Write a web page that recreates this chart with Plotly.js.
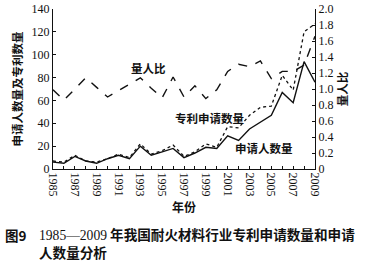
<!DOCTYPE html>
<html>
<head>
<meta charset="utf-8">
<script src="https://cdn.plot.ly/plotly-3.0.1.min.js"></script>
<style>html,body{margin:0;padding:0;background:#fff;}#chart{width:375px;height:265px;}</style>
</head>
<body>
<div id="chart"></div>
<script>
const years = [1985,1986,1987,1988,1989,1990,1991,1992,1993,1994,1995,1996,1997,1998,1999,2000,2001,2002,2003,2004,2005,2006,2007,2008,2009];
const applicants = [6,5,11,7,5,9,12,9,20,12,15,18,10,14,19,18,29,25,35,41,47,67,58,94,76];
const patents = [7,6,12,7,6,9,13,10,22,13,16,21,11,15,22,19,37,36,47,54,55,82,69,120,127];
const ratio = [0.99,0.86,1.00,1.14,1.02,0.90,0.98,1.06,1.14,1.01,0.89,1.15,0.90,1.04,0.88,0.99,1.22,1.31,1.28,1.35,1.13,1.22,1.22,1.30,1.66];
const y2Ticks = [0,0.2,0.4,0.6,0.8,1.0,1.2,1.4,1.6,1.8,2.0];
const y2TickText = ['0','0.2','0.4','0.6','0.8','1.0','1.2','1.4','1.6','1.8','2.0'];

const serif = 'Liberation Serif, Times New Roman, serif';
const cjk = 'Noto Sans CJK SC, sans-serif';

const traces = [
  {x: years, y: applicants, type: 'scatter', mode: 'lines', name: '申请人数量',
   line: {color: '#111', width: 1.4, dash: 'solid'}},
  {x: years, y: patents, type: 'scatter', mode: 'lines', name: '专利申请数量',
   line: {color: '#111', width: 1.3, dash: 'dot'}},
  {x: years, y: ratio, type: 'scatter', mode: 'lines', name: '量人比', yaxis: 'y2',
   line: {color: '#111', width: 1.4, dash: 'dash'}}
];

const px = v => (v - 53) / 262;
const py = v => (169 - v) / 160;
const lbl = (x, y, text, size, xa) => ({
  xref: 'paper', yref: 'paper', x: px(x), y: py(y), xanchor: xa || 'center', yanchor: 'middle',
  align: 'left', text: text, showarrow: false,
  font: {family: cjk, size: size, color: '#111', weight: 'bold'}
});

const layout = {
  width: 375, height: 265,
  margin: {l: 53, r: 60, t: 9, b: 96},
  paper_bgcolor: '#fff', plot_bgcolor: '#fff',
  showlegend: false,
  xaxis: {
    range: [1985, 2009], tick0: 1985, dtick: 2, tickangle: 90,
    ticks: 'inside', ticklen: 3, tickcolor: '#111',
    minor: {dtick: 1, ticks: 'inside', ticklen: 3, tickcolor: '#111'},
    showline: true, linecolor: '#111', linewidth: 1.2, showgrid: false, zeroline: false,
    tickfont: {family: serif, size: 12, color: '#111'},
    title: {text: '年份', font: {family: cjk, size: 12, color: '#111', weight: 'bold'}, standoff: 8}
  },
  yaxis: {
    range: [0, 140], dtick: 20, ticks: 'inside', ticklen: 3, tickcolor: '#111',
    showline: true, linecolor: '#111', linewidth: 1.2, showgrid: false, zeroline: false,
    tickfont: {family: serif, size: 12, color: '#111'},
    title: {text: '申请人数量及专利数量', font: {family: cjk, size: 11.5, color: '#111', weight: 'bold'}, standoff: 6}
  },
  yaxis2: {
    range: [0, 2], overlaying: 'y', side: 'right',
    tickvals: y2Ticks, ticktext: y2TickText,
    ticks: 'inside', ticklen: 3, tickcolor: '#111',
    showline: true, linecolor: '#111', linewidth: 1.2, showgrid: false, zeroline: false,
    tickfont: {family: serif, size: 12, color: '#111'},
    title: {text: '量人比', font: {family: cjk, size: 11.5, color: '#111', weight: 'bold'}, standoff: 5}
  },
  annotations: [
    lbl(148, 68, '量人比', 11.5),
    lbl(209, 118, '专利申请数量', 11.5),
    lbl(264, 148, '申请人数量', 11.5),
    lbl(3, 235, '图9', 13.5, 'left'),
    lbl(37, 243, '<span style="font-family:Liberation Serif;font-weight:normal">1985—2009</span> 年我国耐火材料行业专利申请数量和申请<br>人数量分析', 13.6, 'left')
  ]
};

Plotly.newPlot('chart', traces, layout, {staticPlot: true, displayModeBar: false});
</script>
</body>
</html>
